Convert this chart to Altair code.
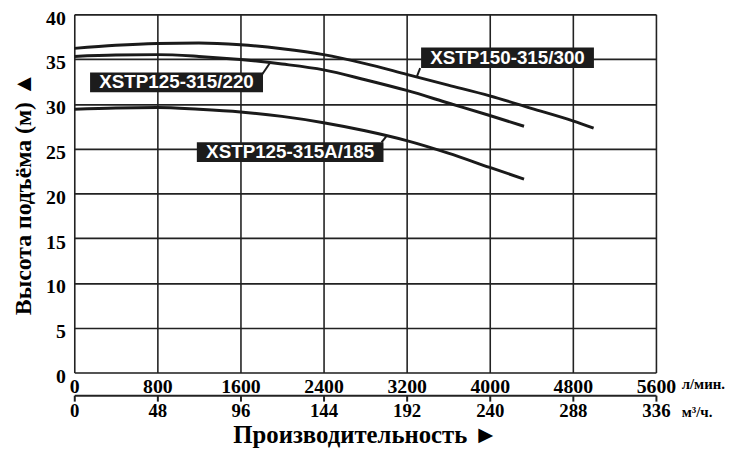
import altair as alt
import pandas as pd

# ---- data ----
flow_300 = [0, 400, 800, 1200, 1600, 2000, 2400, 2800, 3200, 3600, 4000, 4400, 4800, 5000]
head_300 = [36.2, 36.55, 36.75, 36.8, 36.6, 36.15, 35.5, 34.5, 33.3, 32.1, 30.9, 29.5, 28.1, 27.3]
flow_220 = [0, 400, 800, 1200, 1600, 2000, 2400, 2800, 3200, 3600, 4000, 4330]
head_220 = [35.3, 35.45, 35.5, 35.3, 34.95, 34.45, 33.8, 32.7, 31.5, 30.1, 28.7, 27.5]
flow_185 = [0, 400, 800, 1200, 1600, 2000, 2400, 2800, 3200, 3600, 4000, 4330]
head_185 = [29.4, 29.55, 29.6, 29.4, 29.1, 28.6, 27.9, 27.0, 25.9, 24.5, 22.9, 21.6]

label_names = ["XSTP150-315/300", "XSTP125-315/220", "XSTP125-315A/185"]
box_x0 = [3339, 152, 1180]
box_x1 = [5003, 1817, 2977]
box_y0 = [36.3, 33.5, 25.7]
box_y1 = [34.0, 31.3, 23.5]
lead_x0 = [3330, 1810, 2958]
lead_y0 = [34.0, 33.3, 25.7]
lead_x1 = [3300, 1885, 3006]
lead_y1 = [33.1, 34.6, 26.4]

x_ticks = [0, 800, 1600, 2400, 3200, 4000, 4800, 5600]
y_ticks = [0, 5, 10, 15, 20, 25, 30, 35, 40]
unit_lmin = "л/мин."
unit_m3h = "м³/ч."
x_title = "Производительность ►"
y_title = "Высота подъёма (м) ▲"

curves = pd.DataFrame(
    {"flow": flow_300 + flow_220 + flow_185,
     "head": head_300 + head_220 + head_185,
     "series": [label_names[0]] * len(flow_300) + [label_names[1]] * len(flow_220)
     + [label_names[2]] * len(flow_185)})
boxes = pd.DataFrame({"name": label_names, "x0": box_x0, "x1": box_x1, "y0": box_y0, "y1": box_y1})
boxes["xc"] = (boxes.x0 + boxes.x1) / 2
boxes["yc"] = (boxes.y0 + boxes.y1) / 2
leads = pd.DataFrame({"x0": lead_x0, "y0": lead_y0, "x1": lead_x1, "y1": lead_y1})

W, H = 588, 362
SERIF = "Liberation Serif"
SANS = "Liberation Sans"

xs = alt.Scale(domain=[0, 5600], nice=False, zero=False)
ys = alt.Scale(domain=[0, 40], nice=False)

x_main = alt.Axis(values=x_ticks, grid=True, gridColor="#222", gridWidth=1.6,
                  domain=False, ticks=False, labelFont=SERIF, labelFontWeight="bold",
                  labelFontSize=20, labelColor="black", labelPadding=4, labelFlush=False,
                  labelOverlap=False, title=None, format="d")
x_second = alt.Axis(values=x_ticks, orient="bottom", offset=23, grid=False,
                    domain=True, domainColor="#222", domainWidth=2,
                    ticks=True, tickColor="#222", tickWidth=2, tickSize=6,
                    labelExpr="format(datum.value * 0.06, 'd')",
                    labelFont=SERIF, labelFontWeight="bold", labelFontSize=19,
                    labelColor="black", labelPadding=1, labelFlush=False, labelOverlap=False,
                    title=x_title, titleFont=SERIF, titleFontWeight="bold", titleFontSize=25,
                    titleColor="black", titlePadding=2)
y_axis = alt.Axis(values=y_ticks, grid=True, gridColor="#222", gridWidth=1.6,
                  domain=False, ticks=False, labelFont=SERIF, labelFontWeight="bold",
                  labelFontSize=20, labelColor="black", labelPadding=9, labelOffset=4,
                  title=y_title, titleFont=SERIF, titleFontWeight="bold", titleFontSize=24,
                  titleColor="black", titlePadding=10)

lines = alt.Chart(curves).mark_line(color="#1a1a1a", strokeWidth=3, interpolate="monotone").encode(
    x=alt.X("flow:Q", scale=xs, axis=x_main),
    y=alt.Y("head:Q", scale=ys, axis=y_axis),
    detail="series:N",
)

rects = alt.Chart(boxes).mark_rect(color="#1c1c1c").encode(
    x=alt.X("x0:Q", scale=xs, axis=x_second),
    x2="x1:Q",
    y=alt.Y("y0:Q", scale=ys, axis=y_axis),
    y2="y1:Q",
)

texts = alt.Chart(boxes).mark_text(color="white", font=SANS, fontWeight="bold", fontSize=19,
                                   align="center", baseline="middle").encode(
    x=alt.X("xc:Q", scale=xs, axis=None),
    y=alt.Y("yc:Q", scale=ys, axis=y_axis),
    text="name:N",
)

leaders = alt.Chart(leads).mark_rule(color="#1a1a1a", strokeWidth=2).encode(
    x=alt.X("x0:Q", scale=xs, axis=None),
    x2="x1:Q",
    y=alt.Y("y0:Q", scale=ys, axis=y_axis),
    y2="y1:Q",
)

unit1 = alt.Chart(pd.DataFrame({"x": [5600], "t": [unit_lmin]})).mark_text(
    font=SERIF, fontWeight="bold", fontSize=15, color="black",
    align="left", baseline="middle", dx=26).encode(
    x=alt.X("x:Q", scale=xs, axis=None),
    y=alt.value(H + 12),
    text="t:N",
)
unit2 = alt.Chart(pd.DataFrame({"x": [5600], "t": [unit_m3h]})).mark_text(
    font=SERIF, fontWeight="bold", fontSize=15, color="black",
    align="left", baseline="middle", dx=26).encode(
    x=alt.X("x:Q", scale=xs, axis=None),
    y=alt.value(H + 40),
    text="t:N",
)

chart = alt.layer(lines, rects, leaders, texts, unit1, unit2).resolve_axis(
    x="independent", y="shared").properties(
    width=W, height=H,
    autosize=alt.AutoSizeParams(type="none"),
    padding={"left": 67, "top": 4, "right": 87, "bottom": 76},
).configure_view(stroke="#111", strokeWidth=2).configure(background="white")

chart.save("out.html", embed_options={"renderer": "svg", "actions": False})
